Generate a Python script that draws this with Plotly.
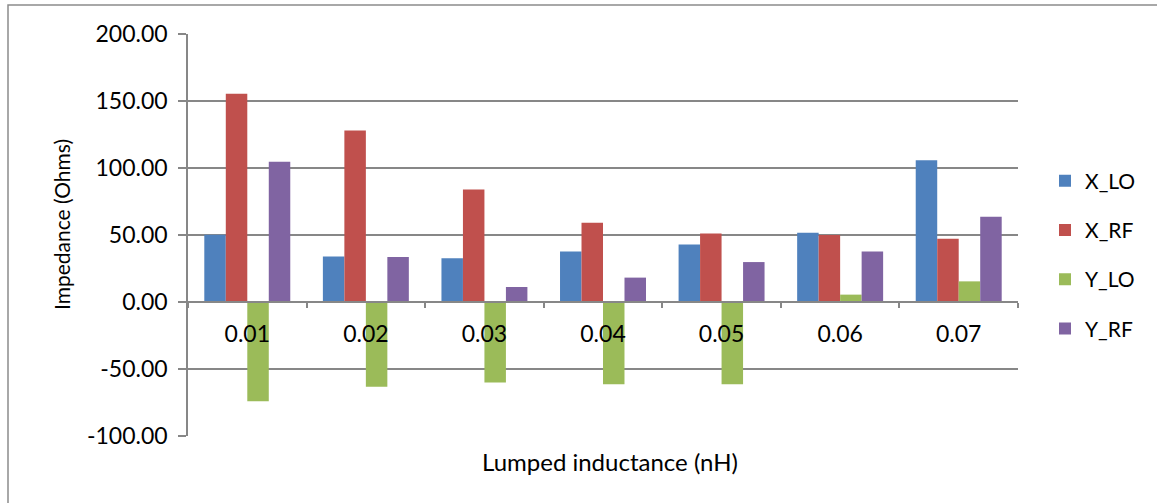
import plotly.graph_objects as go

# Lumped inductance values (nH) and the four impedance series (Ohms)
categories = ["0.01", "0.02", "0.03", "0.04", "0.05", "0.06", "0.07"]
x_lo = [50.2, 34.0, 32.6, 37.6, 43.0, 51.7, 105.8]
x_rf = [155.5, 128.0, 84.0, 59.2, 51.2, 50.0, 47.2]
y_lo = [-74.0, -63.3, -60.0, -61.3, -61.3, 5.5, 15.4]
y_rf = [104.6, 33.5, 11.2, 18.2, 29.8, 37.6, 63.6]

series = [
    ("X_LO", x_lo, "#4F81BD"),
    ("X_RF", x_rf, "#C0504D"),
    ("Y_LO", y_lo, "#9BBB59"),
    ("Y_RF", y_rf, "#8064A2"),
]

y_ticks = [-100, -50, 0, 50, 100, 150, 200]
y_range = [-100, 200]

FONT = "Lato, 'Open Sans', sans-serif"
GRID = "#878787"

fig = go.Figure()
for i, (name, vals, color) in enumerate(series):
    fig.add_trace(go.Bar(
        name=name, x=categories, y=vals,
        marker=dict(color=color, line=dict(width=0)),
        legendgroup=f"g{i}",
    ))

# plot area geometry (pixels) for a 1157x503 page
L, R, T, B = 188, 139, 34, 67
W = 1157 - L - R
H = 503 - T - B

zero_pos = (0 - y_range[0]) / (y_range[1] - y_range[0])

fig.update_layout(
    width=1157, height=503,
    margin=dict(l=L, r=R, t=T, b=B),
    paper_bgcolor="white", plot_bgcolor="white",
    barmode="group", bargap=0.275, bargroupgap=0,
    font=dict(family=FONT, color="black"),
    showlegend=True,
    legend=dict(
        x=(1045 - L) / W, xanchor="left",
        y=(436 - 255) / H, yanchor="middle",
        traceorder="grouped", tracegroupgap=19,
        font=dict(size=21, family=FONT),
        itemwidth=30,
    ),
    xaxis=dict(
        type="category",
        anchor="free", position=zero_pos,
        showline=True, linecolor=GRID, linewidth=1.5,
        ticks="outside", ticklen=5, tickcolor=GRID, tickwidth=1.5,
        tickson="boundaries",
        showgrid=False,
        tickfont=dict(size=23, family=FONT),
        ticklabelstandoff=12,
    ),
    yaxis=dict(
        range=y_range, tickvals=y_ticks,
        ticktext=[f"{v:.2f}" for v in y_ticks],
        showline=True, linecolor=GRID, linewidth=1.5,
        ticks="outside", ticklen=8, tickcolor=GRID, tickwidth=1.5,
        showgrid=True, gridcolor=GRID, gridwidth=1.5,
        zeroline=False,
        tickfont=dict(size=23, family=FONT),
        ticklabelstandoff=6,
    ),
    annotations=[
        dict(text="Impedance (Ohms)", textangle=-90,
             xref="paper", yref="paper",
             x=(61 - L) / W, y=(436 - 225) / H,
             xanchor="center", yanchor="middle",
             showarrow=False, font=dict(size=21, family=FONT)),
        dict(text="Lumped inductance (nH)",
             xref="paper", yref="paper",
             x=(610 - L) / W, y=(436 - 461) / H,
             xanchor="center", yanchor="middle",
             showarrow=False, font=dict(size=24, family=FONT)),
    ],
    shapes=[
        # chart-area border
        dict(type="rect", xref="paper", yref="paper",
             x0=(8 - L) / W, x1=(1165 - L) / W,
             y0=(436 - 515) / H, y1=(436 - 5) / H,
             line=dict(color="#8C8C8C", width=1.5), layer="below"),
    ],
)

fig.write_html("out.html")
